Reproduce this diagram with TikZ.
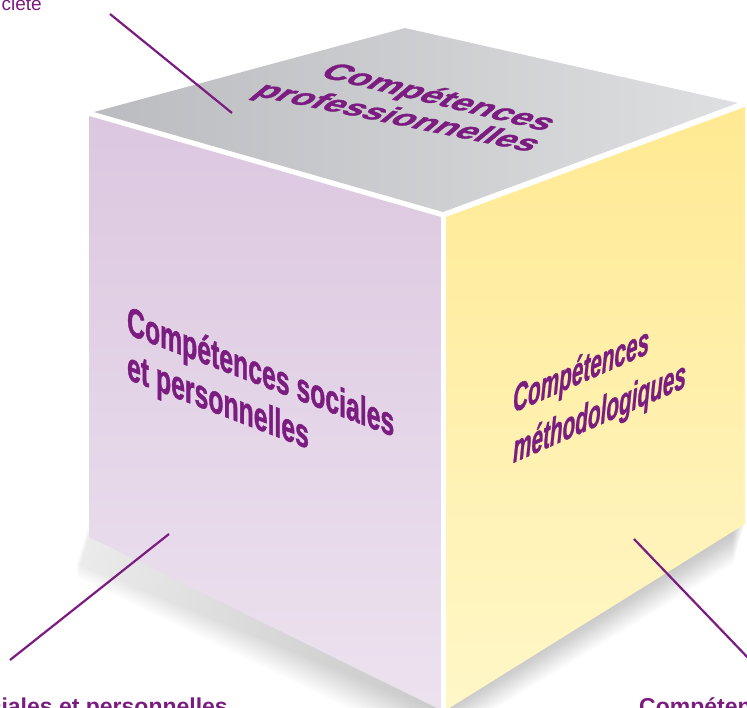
\documentclass[tikz,border=0pt]{standalone}
\usepackage{fontspec}
\setmainfont{Liberation Sans}
\newfontfamily\heavyfont[BoldFeatures={FakeBold=1.5}, BoldItalicFeatures={FakeBold=1.2}]{Liberation Sans}
\definecolor{purp}{HTML}{7B1C80}
\definecolor{lilacTop}{HTML}{DCC7E0}
\definecolor{lilacBot}{HTML}{ECE2EF}
\definecolor{yelTop}{HTML}{FFE992}
\definecolor{yelBot}{HTML}{FFF7C8}
\definecolor{grayL}{HTML}{BBBCBF}
\definecolor{grayR}{HTML}{DEDFE1}
\tikzset{
  facetext/.style={text=purp, inner sep=0pt, transform shape, anchor=base west},
  lbl/.style={text=purp, inner sep=0pt},
  connector/.style={draw=purp, line width=2.2pt},
}
\begin{document}
\begin{tikzpicture}[x=1pt,y=-1pt]
\useasboundingbox (0,0) rectangle (747,707);
\clip (0,0) rectangle (747,707);
% soft shadow below the bottom edges
\foreach \i in {1,...,20}{
  \fill[black,opacity=0.011,shift={(-0.6*\i,2*\i)}]
    (89,522) -- (89,537) -- (443,708) -- (745,524) -- (745,482) -- (443,666) -- cycle;
}
% faces
\shade[top color=lilacTop, bottom color=lilacBot]
  (89,116) -- (441,217) -- (441,710) -- (89,537) -- cycle;
\shade[top color=yelTop, bottom color=yelBot]
  (446,217) -- (745,107) -- (745,524) -- (446,710) -- cycle;
\fill[white] (441,217) rectangle (446,712);
\shade[left color=grayL, right color=grayR]
  (94,112) -- (405,28) -- (738,103) -- (443,212) -- cycle;
% top face text
\begin{scope}[shift={(318,76)}, cm={1.438,-0.350,1.0,0.836,(0,0)}]
  \node[facetext, font=\heavyfont\bfseries\fontsize{24}{24}\selectfont] (top1) at (0pt,0pt) {Compétences};
\end{scope}
\begin{scope}[shift={(251,95)}, cm={1.459,-0.298,1.0,0.836,(0,0)}]
  \node[facetext, font=\heavyfont\bfseries\fontsize{24}{24}\selectfont] (top2) at (0pt,0pt) {professionnelles};
\end{scope}
% left face text
\begin{scope}[shift={(127,334)}, cm={0.652,-0.251,0,1.06,(0,0)}]
  \node[facetext, font=\heavyfont\bfseries\fontsize{38}{38}\selectfont] (left1) at (0pt,0pt) {Compétences sociales};
  \node[facetext, font=\heavyfont\bfseries\fontsize{38}{38}\selectfont] (left2) at (0pt,-42.5pt) {et personnelles};
\end{scope}
% right face text
\begin{scope}[shift={(513,413)}, cm={0.61,0.268,0,1.15,(0,0)}]
  \node[facetext, font=\heavyfont\bfseries\itshape\fontsize{34}{34}\selectfont] (right1) at (0pt,0pt) {Compétences};
  \node[facetext, font=\heavyfont\bfseries\itshape\fontsize{34}{34}\selectfont] (right2) at (0pt,-43.5pt) {méthodologiques};
\end{scope}
% edge labels (cut by the frame)
\node[lbl, anchor=base east, font=\fontsize{19}{19}\selectfont] (lblTop) at (42,10) {ciété};
\node[lbl, anchor=base east, font=\bfseries\fontsize{23}{23}\selectfont] (lblLeft) at (228,714) {ciales et personnelles};
\node[lbl, anchor=base west, font=\bfseries\fontsize{23}{23}\selectfont] (lblRight) at (639,714) {Compéten};
% connectors
\coordinate (a1) at (110,14);
\coordinate (a2) at (232,113);
\coordinate (b1) at (169,534);
\coordinate (b2) at (10,660);
\coordinate (c1) at (634,539);
\coordinate (c2) at (752,662);
\draw[connector] (a1) -- (a2);
\draw[connector] (b1) -- (b2);
\draw[connector] (c1) -- (c2);
\end{tikzpicture}
\end{document}
